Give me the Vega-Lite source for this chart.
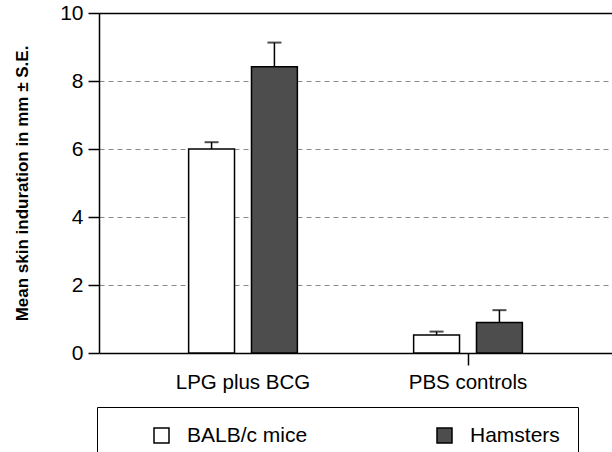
{
  "$schema": "https://vega.github.io/schema/vega-lite/v6.json",
  "width": 513,
  "height": 340,
  "autosize": {"type": "none"},
  "padding": {"left": 99, "top": 13, "right": 0, "bottom": 99},
  "background": "white",
  "config": {
    "view": {"stroke": null},
    "font": "Liberation Sans",
    "axis": {"domainColor": "black", "domainWidth": 1.5, "tickColor": "black", "tickWidth": 1.5, "labelColor": "black", "titleColor": "black", "labelFont": "Liberation Sans", "titleFont": "Liberation Sans"}
  },
  "data": {
    "values": [
      {"group": "LPG plus BCG", "animal": "BALB/c mice", "value": 6.0, "upper": 6.2},
      {"group": "LPG plus BCG", "animal": "Hamsters", "value": 8.42, "upper": 9.13},
      {"group": "PBS controls", "animal": "BALB/c mice", "value": 0.53, "upper": 0.63},
      {"group": "PBS controls", "animal": "Hamsters", "value": 0.9, "upper": 1.26}
    ]
  },
  "encoding": {
    "x": {
      "field": "group", "type": "nominal",
      "scale": {"paddingInner": 0.5, "paddingOuter": 0.39},
      "axis": {
        "title": null, "labelAngle": 0, "labelFontSize": 20.5, "labelPadding": 7,
        "ticks": true, "tickSize": 12, "tickBand": "center",
        "tickColor": {"condition": {"test": "datum.value === 'PBS controls'", "value": "black"}, "value": "transparent"}
      }
    },
    "xOffset": {"field": "animal", "type": "nominal", "scale": {"paddingInner": 0.27, "paddingOuter": 0.03}}
  },
  "layer": [
    {
      "mark": {"type": "bar", "stroke": "black", "strokeWidth": 1.5},
      "encoding": {
        "y": {
          "field": "value", "type": "quantitative",
          "scale": {"domain": [0, 10], "nice": false},
          "axis": {
            "title": "Mean skin induration in mm ± S.E.",
            "titleFontSize": 17, "titleFontWeight": "bold", "titlePadding": 28,
            "values": [0, 2, 4, 6, 8, 10],
            "labelFontSize": 21, "labelPadding": 5, "tickSize": 11,
            "grid": true,
            "gridColor": {"condition": {"test": "datum.value === 10", "value": "black"}, "value": "#888888"},
            "gridDash": {"condition": {"test": "datum.value === 10", "value": []}, "value": [5, 4]},
            "gridWidth": {"condition": {"test": "datum.value === 10", "value": 1.5}, "value": 1},
            "gridOpacity": {"condition": {"test": "datum.value === 0", "value": 0}, "value": 1}
          }
        },
        "fill": {
          "field": "animal", "type": "nominal",
          "scale": {"domain": ["BALB/c mice", "Hamsters"], "range": ["white", "#4d4d4d"]},
          "legend": {
            "orient": "none", "legendX": -2, "legendY": 394,
            "direction": "horizontal",
            "title": " ", "titleOrient": "left", "titlePadding": 36, "titleFontSize": 19,
            "strokeColor": "black", "padding": 18,
            "symbolType": "square", "symbolSize": 225, "symbolStrokeColor": "black", "symbolStrokeWidth": 1.5,
            "labelFontSize": 21, "labelColor": "black", "labelOffset": 15, "labelLimit": 400,
            "columnPadding": 126,
            "labelExpr": "datum.label === 'Hamsters' ? 'Hamsters          ' : datum.label"
          }
        }
      }
    },
    {
      "mark": {"type": "rule", "stroke": "black", "strokeWidth": 1.5},
      "encoding": {
        "y": {"field": "value", "type": "quantitative"},
        "y2": {"field": "upper"}
      }
    },
    {
      "mark": {"type": "tick", "color": "black", "thickness": 2, "size": 14, "orient": "horizontal"},
      "encoding": {
        "y": {"field": "upper", "type": "quantitative"}
      }
    }
  ]
}
